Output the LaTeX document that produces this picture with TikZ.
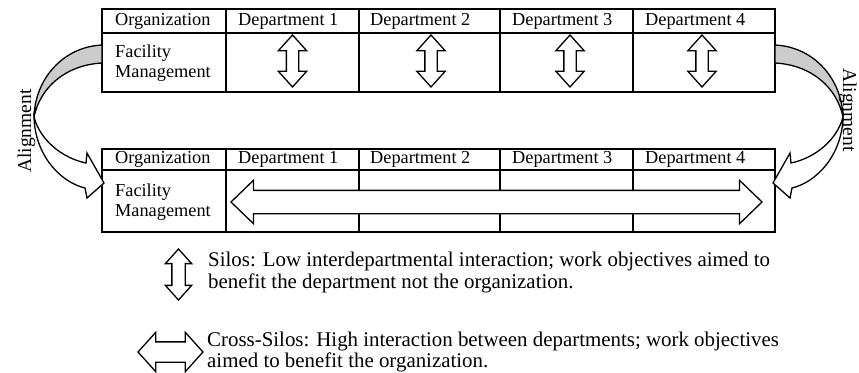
\documentclass[tikz,border=0pt]{standalone}
\usepackage{fontspec}
\setmainfont{Liberation Serif}
\usetikzlibrary{shapes.arrows}

\begin{document}
\begin{tikzpicture}[x=1pt, y=-1pt,
		celltext/.style={inner sep=0pt, font=\fontsize{18.3}{20.5}\selectfont},
		keytext/.style={inner sep=0pt, anchor=west, align=left, font=\fontsize{20.9}{21.5}\selectfont},
		tableline/.style={line width=1.8pt},
		silo/.style={draw, fill=white, line width=1.3pt, double arrow, inner xsep=0pt, inner ysep=5.5pt, rotate=90, minimum height=52pt, minimum width=0pt, double arrow head extend=8pt, double arrow tip angle=84},
		crosssilo/.style={draw, fill=white, line width=1.3pt, double arrow, inner xsep=0pt, minimum width=0pt},
		bandback/.style={draw, fill=black!20, line width=1.3pt, line join=round},
		bandfront/.style={draw, fill=white, line width=1.3pt, line join=miter}]

		\useasboundingbox (0, 0) rectangle (859, 372);

		\draw[tableline] (102, 9) rectangle (775, 92);
		\draw[tableline] (102, 33) -- (775, 33);
		\draw[tableline] (226, 9) -- (226, 92);
		\draw[tableline] (359, 9) -- (359, 92);
		\draw[tableline] (500, 9) -- (500, 92);
		\draw[tableline] (633, 9) -- (633, 92);

		\draw[tableline] (102, 149) rectangle (775, 232);
		\draw[tableline] (102, 170) -- (775, 170);
		\draw[tableline] (226, 149) -- (226, 232);
		\draw[tableline] (359, 149) -- (359, 232);
		\draw[tableline] (500, 149) -- (500, 232);
		\draw[tableline] (633, 149) -- (633, 232);

		\node[celltext, anchor=west] (org top) at (115, 21) {Organization};
		\node[celltext, anchor=west] (dep1 top) at (238, 21) {Department 1};
		\node[celltext, anchor=west] (dep2 top) at (370, 21) {Department 2};
		\node[celltext, anchor=west] (dep3 top) at (512, 21) {Department 3};
		\node[celltext, anchor=west] (dep4 top) at (645, 21) {Department 4};
		\node[celltext, anchor=west, align=left] (fm top) at (115, 63) {Facility\\Management};

		\node[celltext, anchor=west] (org bottom) at (115, 159.5) {Organization};
		\node[celltext, anchor=west] (dep1 bottom) at (238, 159.5) {Department 1};
		\node[celltext, anchor=west] (dep2 bottom) at (370, 159.5) {Department 2};
		\node[celltext, anchor=west] (dep3 bottom) at (512, 159.5) {Department 3};
		\node[celltext, anchor=west] (dep4 bottom) at (645, 159.5) {Department 4};
		\node[celltext, anchor=west, align=left] (fm bottom) at (115, 202) {Facility\\Management};

		\node[silo] (silo1) at (292.5, 61) {};
		\node[silo] (silo2) at (431, 61) {};
		\node[silo] (silo3) at (570, 61) {};
		\node[silo] (silo4) at (702, 61) {};

		\node[crosssilo, inner ysep=11pt, minimum height=531pt, double arrow head extend=10pt, double arrow tip angle=88] (cross) at (496.5, 202) {};

		\filldraw[bandback] (102, 45) .. controls (62, 47) and (35, 80) .. (34, 117) .. controls (40, 88) and (65, 65) .. (102, 63) -- cycle;
		\filldraw[bandfront] (34, 117) .. controls (35, 155) and (60, 182) .. (85, 188) -- (87, 198) -- (104, 183) -- (87, 153) -- (86, 163) .. controls (62, 158) and (40, 140) .. (34, 117) -- cycle;

		\begin{scope}[xshift=877pt, xscale=-1]
			\filldraw[bandback] (102, 45) .. controls (62, 47) and (35, 80) .. (34, 117) .. controls (40, 88) and (65, 65) .. (102, 63) -- cycle;
			\filldraw[bandfront] (34, 117) .. controls (35, 155) and (60, 182) .. (85, 188) -- (87, 198) -- (104, 183) -- (87, 153) -- (86, 163) .. controls (62, 158) and (40, 140) .. (34, 117) -- cycle;
		\end{scope}

		\node[inner sep=0pt, anchor=base, rotate=90, font=\fontsize{19.5}{20}\selectfont] (align left) at (31, 131) {Alignment};
		\node[inner sep=0pt, anchor=base, rotate=-90, font=\fontsize{19.5}{20}\selectfont] (align right) at (843, 110) {Alignment};

		\node[silo, inner ysep=6pt, minimum height=51pt, double arrow head extend=6.5pt] (key silo) at (178.5, 274.5) {};
		\node[keytext] (key silo text) at (208, 272.5) {Silos: Low interdepartmental interaction; work objectives aimed to\\benefit the department not the organization.};

		\node[crosssilo, inner ysep=9.5pt, minimum height=65pt, double arrow head extend=9.5pt, double arrow tip angle=96] (key cross) at (170.5, 352) {};
		\node[keytext] (key cross text) at (207, 352) {Cross-Silos: High interaction between departments; work objectives\\aimed to benefit the organization.};

	\end{tikzpicture}
\end{document}
